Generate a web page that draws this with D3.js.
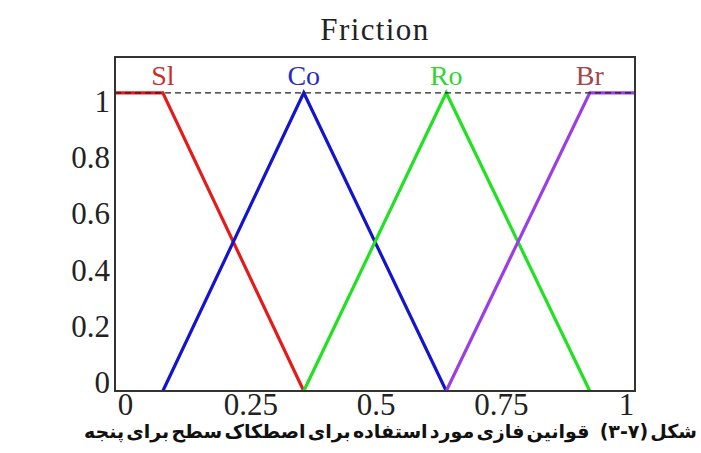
<!DOCTYPE html>
<html>
<head>
<meta charset="utf-8">
<script src="https://cdn.jsdelivr.net/npm/d3@7"></script>
<style>
  html, body { margin: 0; padding: 0; background: #fff; }
  svg { display: block; }
</style>
</head>
<body>
<svg id="chart" width="701" height="453"></svg>
<script>
// Membership functions for friction: breakpoints on the [0, 1] input range
const seriesNames = ["Sl", "Co", "Ro", "Br"];
const slX = [0, 0.092, 0.363];
const slY = [1, 1, 0];
const coX = [0.092, 0.363, 0.637];
const coY = [0, 1, 0];
const roX = [0.363, 0.637, 0.913];
const roY = [0, 1, 0];
const brX = [0.637, 0.913, 1];
const brY = [0, 1, 1];
const peakX = [0.092, 0.363, 0.637, 0.913];

const xTicks = [0, 0.25, 0.5, 0.75, 1];
const xTickLabels = ["0", "0.25", "0.5", "0.75", "1"];
const yTicks = [0, 0.2, 0.4, 0.6, 0.8, 1];
const yTickLabels = ["0", "0.2", "0.4", "0.6", "0.8", "1"];

const title = "Friction";
const captionWords = ["شکل", "(۳-۷)", "قوانین", "فازی", "مورد", "استفاده", "برای", "اصطکاک", "سطح", "برای", "پنجه"];

const lineColors = ["#e31b1b", "#1414cc", "#22e022", "#9b3ee6"];
const labelColors = ["#c9302c", "#2a2ac0", "#33d433", "#a0484a"];

const svg = d3.select("#chart");
const serif = "'Liberation Serif', 'DejaVu Serif', serif";

// Plot frame
const frame = { left: 115, right: 635, top: 57, bottom: 391 };
const x = d3.scaleLinear().domain([0, 1]).range([frame.left, frame.right]);
const y = d3.scaleLinear().domain([0, 1.12]).range([frame.bottom, frame.top]);

// Tick label placement scales
const xLab = d3.scaleLinear().domain([0, 1]).range([125, 626]);
const yLab = d3.scaleLinear().domain([0, 1]).range([382, 101]);

// Title
svg.append("text")
  .attr("x", 375).attr("y", 40)
  .attr("text-anchor", "middle")
  .style("font-family", serif)
  .style("font-size", "31px")
  .style("letter-spacing", "1.4px")
  .attr("fill", "#222")
  .text(title);

// Series lines
const series = [
  { xs: slX, ys: slY }, { xs: coX, ys: coY },
  { xs: roX, ys: roY }, { xs: brX, ys: brY }
];
const line = d3.line().x(d => x(d[0])).y(d => y(d[1]));
series.forEach((s, i) => {
  svg.append("path")
    .datum(d3.zip(s.xs, s.ys))
    .attr("d", line)
    .attr("fill", "none")
    .attr("stroke", lineColors[i])
    .attr("stroke-width", 3.2)
    .attr("stroke-linejoin", "miter");
});

// Dashed reference at full membership
svg.append("line")
  .attr("x1", x(0)).attr("x2", x(1))
  .attr("y1", y(1)).attr("y2", y(1))
  .attr("stroke", "#222")
  .attr("stroke-width", 1.3)
  .attr("stroke-dasharray", "6,4");

// Series names above each peak
svg.selectAll("text.name")
  .data(seriesNames)
  .join("text")
  .attr("class", "name")
  .attr("x", (d, i) => x(peakX[i]))
  .attr("y", 85)
  .attr("text-anchor", "middle")
  .style("font-family", serif)
  .style("font-size", "28px")
  .attr("fill", (d, i) => labelColors[i])
  .text(d => d);

// Frame
svg.append("rect")
  .attr("x", frame.left).attr("y", frame.top)
  .attr("width", frame.right - frame.left).attr("height", frame.bottom - frame.top)
  .attr("fill", "none")
  .attr("stroke", "#333")
  .attr("stroke-width", 2);

// Axes (labels only)
const xAxis = d3.axisBottom(xLab)
  .tickValues(xTicks)
  .tickSize(0)
  .tickFormat((d, i) => xTickLabels[i]);
const gx = svg.append("g").attr("transform", "translate(0,393)").call(xAxis);
gx.select(".domain").remove();
gx.selectAll("text")
  .style("font-family", serif)
  .style("font-size", "31px")
  .attr("fill", "#222")
  .attr("dy", "0.6em");

const yAxis = d3.axisLeft(yLab)
  .tickValues(yTicks)
  .tickSize(0)
  .tickFormat((d, i) => yTickLabels[i]);
const gy = svg.append("g").attr("transform", "translate(110,0)").call(yAxis);
gy.select(".domain").remove();
gy.selectAll("text")
  .attr("x", 0)
  .style("font-family", serif)
  .style("font-size", "31px")
  .attr("fill", "#222")
  .attr("dy", "0.34em");

// Caption (right-to-left): each word centred in its own slot, first word at the right
const capLeft = 84, capRight = 697, capBase = 438;
const capNodes = svg.append("g").selectAll("text")
  .data(captionWords)
  .join("text")
  .attr("y", capBase)
  .attr("text-anchor", "middle")
  .style("font-family", "'DejaVu Sans', sans-serif")
  .style("font-size", "19px")
  .style("font-weight", "bold")
  .attr("fill", "#111")
  .text(d => d);
const widths = capNodes.nodes().map(n => n.getComputedTextLength());
const extra = widths.map((w, i) => (i === 1 ? 8 : 0));
const gap = (capRight - capLeft - d3.sum(widths) - d3.sum(extra)) / (captionWords.length - 1);
const ends = [];
widths.reduce((acc, w, i) => { ends.push(acc); return acc - w - gap - extra[i]; }, capRight);
capNodes.attr("x", (d, i) => ends[i] - widths[i] / 2);
</script>
</body>
</html>
